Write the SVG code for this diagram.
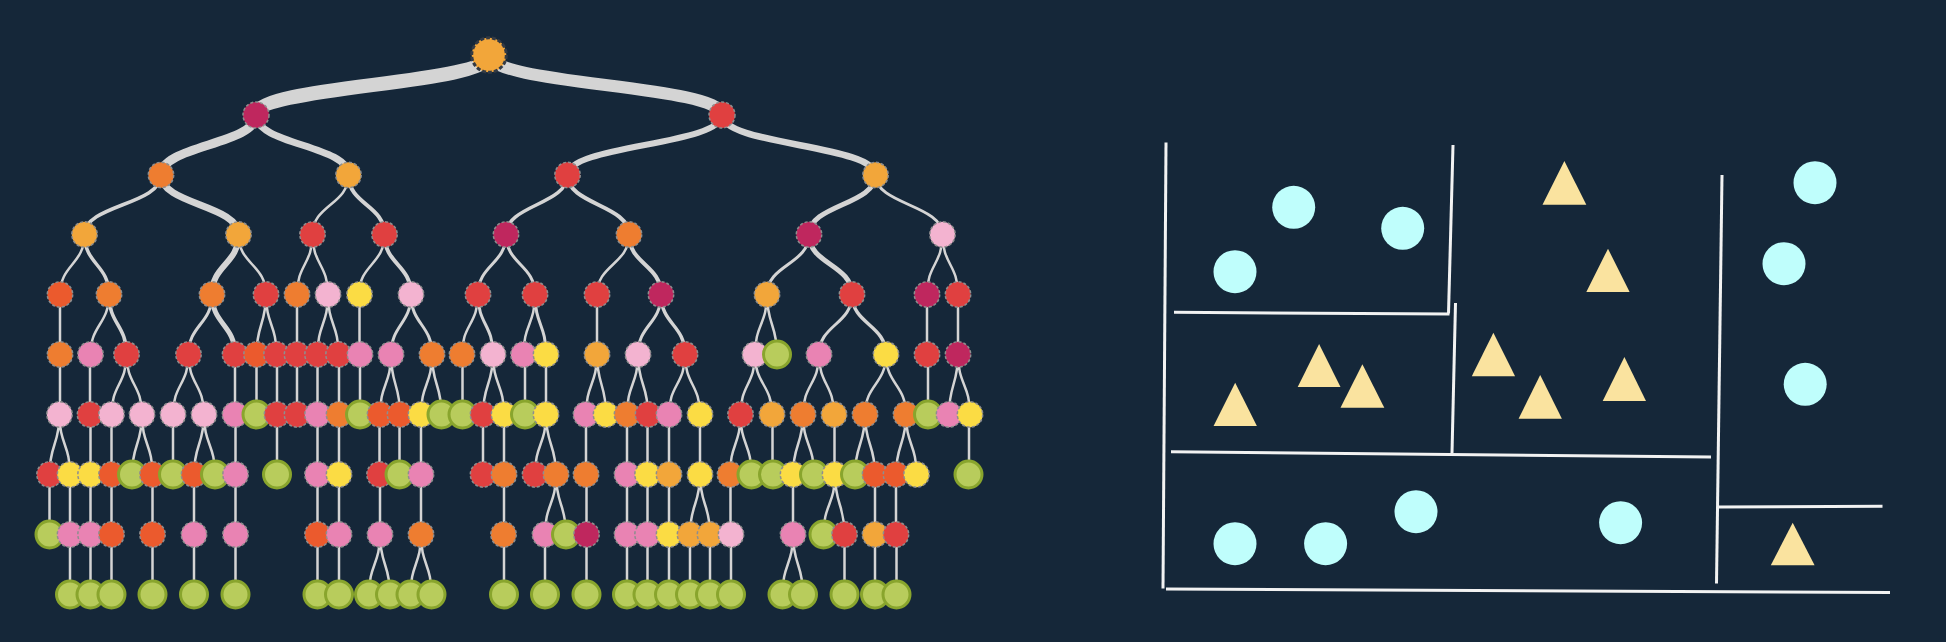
<svg xmlns="http://www.w3.org/2000/svg" width="1946" height="642" viewBox="0 0 1946 642">
<style>
.e{fill:none;stroke:#d4d4d4;stroke-linecap:butt}
.d{stroke:#8e8e8e;stroke-width:1.5;stroke-dasharray:3 2}
.g{fill:#b8cc5c;stroke:#89a52d;stroke-width:3}
.oy{fill:#f2a63a}.mg{fill:#bf275e}.rd{fill:#e04040}.or{fill:#ee7d30}.orr{fill:#eb5a2d}.lp{fill:#f3b3d0}.pk{fill:#e983b3}.yl{fill:#fbdc44}
.w{stroke:#f2f2f2;stroke-width:3;fill:none}
.ci{fill:#bffefc}
.tr{fill:#fae39f}
</style>
<rect width="1946" height="642" fill="#152739"/>
<g id="connectors">
<path class="e" stroke-width="14" d="M489 55C489 85 256 85 256 115"/>
<path class="e" stroke-width="12" d="M489 55C489 85 722 85 722 115"/>
<path class="e" stroke-width="9" d="M256 115C256 145 161 145 161 175"/>
<path class="e" stroke-width="7" d="M256 115C256 145 348.5 145 348.5 175"/>
<path class="e" stroke-width="6" d="M722 115C722 145 567.5 145 567.5 175"/>
<path class="e" stroke-width="6.5" d="M722 115C722 145 875.5 145 875.5 175"/>
<path class="e" stroke-width="3.5" d="M161 175C161 204.75 84.5 204.75 84.5 234.5M567.5 175C567.5 204.75 506 204.75 506 234.5"/>
<path class="e" stroke-width="7" d="M161 175C161 204.75 238.5 204.75 238.5 234.5"/>
<path class="e" stroke-width="2.5" d="M348.5 175C348.5 204.75 312.5 204.75 312.5 234.5"/>
<path class="e" stroke-width="4" d="M348.5 175C348.5 204.75 384.5 204.75 384.5 234.5M567.5 175C567.5 204.75 629 204.75 629 234.5"/>
<path class="e" stroke-width="5" d="M875.5 175C875.5 204.75 809 204.75 809 234.5"/>
<path class="e" stroke-width="3" d="M875.5 175C875.5 204.75 942.5 204.75 942.5 234.5"/>
<path class="e" stroke-width="2.5" d="M84.5 234.5C84.5 264.5 60 264.5 60 294.5M238.5 234.5C238.5 264.5 266 264.5 266 294.5M312.5 234.5C312.5 264.5 297 264.5 297 294.5M312.5 234.5C312.5 264.5 328 264.5 328 294.5M384.5 234.5C384.5 264.5 359 264.5 359 294.5M629 234.5C629 264.5 597 264.5 597 294.5M942.5 234.5C942.5 264.5 927 264.5 927 294.5M942.5 234.5C942.5 264.5 958 264.5 958 294.5"/>
<path class="e" stroke-width="3" d="M506 234.5C506 264.5 478 264.5 478 294.5M506 234.5C506 264.5 535 264.5 535 294.5M809 234.5C809 264.5 767 264.5 767 294.5"/>
<path class="e" stroke-width="3.5" d="M84.5 234.5C84.5 264.5 109 264.5 109 294.5"/>
<path class="e" stroke-width="4" d="M384.5 234.5C384.5 264.5 411 264.5 411 294.5M629 234.5C629 264.5 661 264.5 661 294.5"/>
<path class="e" stroke-width="5" d="M809 234.5C809 264.5 852 264.5 852 294.5"/>
<path class="e" stroke-width="6" d="M238.5 234.5C238.5 264.5 212 264.5 212 294.5"/>
<path class="e" stroke-width="2.5" d="M60 294.5V354.5M109 294.5C109 324.5 90.5 324.5 90.5 354.5M266 294.5C266 324.5 256.5 324.5 256.5 354.5M266 294.5C266 324.5 276.5 324.5 276.5 354.5M297 294.5V354.5M328 294.5C328 324.5 317.5 324.5 317.5 354.5M328 294.5C328 324.5 338.5 324.5 338.5 354.5M359.5 294.5V354.5M478 294.5C478 324.5 462 324.5 462 354.5M535 294.5C535 324.5 523.5 324.5 523.5 354.5M597 294.5V354.5M767 294.5C767 324.5 755 324.5 755 354.5M767 294.5C767 324.5 777 324.5 777 354.5M927 294.5V354.5M958 294.5V354.5"/>
<path class="e" stroke-width="3" d="M212 294.5C212 324.5 188.5 324.5 188.5 354.5M411 294.5C411 324.5 391 324.5 391 354.5M411 294.5C411 324.5 432 324.5 432 354.5M478 294.5C478 324.5 493 324.5 493 354.5M535 294.5C535 324.5 546 324.5 546 354.5M661 294.5C661 324.5 638 324.5 638 354.5M852 294.5C852 324.5 819 324.5 819 354.5"/>
<path class="e" stroke-width="3.5" d="M109 294.5C109 324.5 126.5 324.5 126.5 354.5M661 294.5C661 324.5 685 324.5 685 354.5M852 294.5C852 324.5 886 324.5 886 354.5"/>
<path class="e" stroke-width="5" d="M212 294.5C212 324.5 235 324.5 235 354.5"/>
<path class="e" stroke-width="2.5" d="M60 354.5V414.5M90 354.5V414.5M235 354.5V414.5M256.5 354.5V414.5M277 354.5V414.5M297 354.5V414.5M317.5 354.5V414.5M339 354.5V414.5M360 354.5V414.5M462.5 354.5V414.5M525 354.5V414.5M546 354.5V414.5M928 354.5V414.5M126.5 354.5C126.5 384.5 111.5 384.5 111.5 414.5M126.5 354.5C126.5 384.5 142 384.5 142 414.5M188.5 354.5C188.5 384.5 173 384.5 173 414.5M188.5 354.5C188.5 384.5 204 384.5 204 414.5M391 354.5C391 384.5 380 384.5 380 414.5M391 354.5C391 384.5 400 384.5 400 414.5M432 354.5C432 384.5 421 384.5 421 414.5M432 354.5C432 384.5 441.5 384.5 441.5 414.5M493 354.5C493 384.5 483 384.5 483 414.5M493 354.5C493 384.5 504 384.5 504 414.5M597 354.5C597 384.5 586 384.5 586 414.5M597 354.5C597 384.5 606 384.5 606 414.5M638 354.5C638 384.5 627 384.5 627 414.5M638 354.5C638 384.5 648 384.5 648 414.5M685 354.5C685 384.5 669 384.5 669 414.5M685 354.5C685 384.5 700 384.5 700 414.5M755 354.5C755 384.5 740.5 384.5 740.5 414.5M755 354.5C755 384.5 772 384.5 772 414.5M819 354.5C819 384.5 803 384.5 803 414.5M819 354.5C819 384.5 834 384.5 834 414.5M886 354.5C886 384.5 865 384.5 865 414.5M886 354.5C886 384.5 906 384.5 906 414.5M958 354.5C958 384.5 949 384.5 949 414.5M958 354.5C958 384.5 970 384.5 970 414.5"/>
<path class="e" stroke-width="2.5" d="M90.5 414.5V474.5M111.5 414.5V474.5M173 414.5V474.5M235.5 414.5V474.5M277 414.5V474.5M317.5 414.5V474.5M339 414.5V474.5M379.5 414.5V474.5M399.5 414.5V474.5M421 414.5V474.5M483 414.5V474.5M504 414.5V474.5M586 414.5V474.5M627 414.5V474.5M647.5 414.5V474.5M669 414.5V474.5M700 414.5V474.5M772.5 414.5V474.5M834.5 414.5V474.5M969 414.5V474.5M59.5 414.5C59.5 444.5 49.5 444.5 49.5 474.5M59.5 414.5C59.5 444.5 70 444.5 70 474.5M142 414.5C142 444.5 132 444.5 132 474.5M142 414.5C142 444.5 152.5 444.5 152.5 474.5M204 414.5C204 444.5 194 444.5 194 474.5M204 414.5C204 444.5 215 444.5 215 474.5M546 414.5C546 444.5 535 444.5 535 474.5M546 414.5C546 444.5 556 444.5 556 474.5M740.5 414.5C740.5 444.5 730 444.5 730 474.5M740.5 414.5C740.5 444.5 751.5 444.5 751.5 474.5M803 414.5C803 444.5 793 444.5 793 474.5M803 414.5C803 444.5 814 444.5 814 474.5M865 414.5C865 444.5 855 444.5 855 474.5M865 414.5C865 444.5 875 444.5 875 474.5M906 414.5C906 444.5 896 444.5 896 474.5M906 414.5C906 444.5 916.5 444.5 916.5 474.5"/>
<path class="e" stroke-width="2.5" d="M49.5 474.5V534.5M70 474.5V534.5M90.5 474.5V534.5M111.5 474.5V534.5M152.5 474.5V534.5M194 474.5V534.5M235.5 474.5V534.5M317.5 474.5V534.5M339 474.5V534.5M380 474.5V534.5M421 474.5V534.5M504 474.5V534.5M586.5 474.5V534.5M627 474.5V534.5M647.5 474.5V534.5M669 474.5V534.5M730.5 474.5V534.5M793 474.5V534.5M875 474.5V534.5M896 474.5V534.5M556 474.5C556 504.5 545 504.5 545 534.5M556 474.5C556 504.5 566 504.5 566 534.5M700 474.5C700 504.5 690 504.5 690 534.5M700 474.5C700 504.5 710 504.5 710 534.5M835 474.5C835 504.5 823.5 504.5 823.5 534.5M835 474.5C835 504.5 844.5 504.5 844.5 534.5"/>
<path class="e" stroke-width="2.5" d="M70 534.5V594.5M90.5 534.5V594.5M111.5 534.5V594.5M152.5 534.5V594.5M194 534.5V594.5M235.5 534.5V594.5M317.5 534.5V594.5M339 534.5V594.5M504 534.5V594.5M545 534.5V594.5M586.5 534.5V594.5M627 534.5V594.5M647.5 534.5V594.5M669 534.5V594.5M690 534.5V594.5M710 534.5V594.5M731 534.5V594.5M844.5 534.5V594.5M875 534.5V594.5M896.5 534.5V594.5M380 534.5C380 564.5 369 564.5 369 594.5M380 534.5C380 564.5 390 564.5 390 594.5M421 534.5C421 564.5 410.5 564.5 410.5 594.5M421 534.5C421 564.5 431.5 564.5 431.5 594.5M793 534.5C793 564.5 782.5 564.5 782.5 594.5M793 534.5C793 564.5 803 564.5 803 594.5"/>
</g>
<g id="root"><circle class="oy" cx="489" cy="55" r="17.3" stroke="#333a44" stroke-width="3" stroke-dasharray="4 2"/></g>
<g id="n1a"><circle class="d mg" cx="256" cy="115" r="13"/></g>
<g id="n1b"><circle class="d rd" cx="722" cy="115" r="13"/></g>
<g id="n2a"><circle class="d or" cx="161" cy="175" r="12.7"/></g>
<g id="n2b"><circle class="d oy" cx="348.5" cy="175" r="12.7"/></g>
<g id="n2c"><circle class="d rd" cx="567.5" cy="175" r="12.7"/></g>
<g id="n2d"><circle class="d oy" cx="875.5" cy="175" r="12.7"/></g>
<g id="n3a"><circle class="d oy" cx="84.5" cy="234.5" r="12.7"/></g>
<g id="n3b"><circle class="d oy" cx="238.5" cy="234.5" r="12.7"/></g>
<g id="n3c"><circle class="d rd" cx="312.5" cy="234.5" r="12.7"/></g>
<g id="n3d"><circle class="d rd" cx="384.5" cy="234.5" r="12.7"/></g>
<g id="n3e"><circle class="d mg" cx="506" cy="234.5" r="12.7"/></g>
<g id="n3f"><circle class="d or" cx="629" cy="234.5" r="12.7"/></g>
<g id="n3g"><circle class="d mg" cx="809" cy="234.5" r="12.7"/></g>
<g id="n3h"><circle class="d lp" cx="942.5" cy="234.5" r="12.7"/></g>
<g id="n4-1"><circle class="d orr" cx="60" cy="294.5" r="12.7"/></g>
<g id="n4-2"><circle class="d or" cx="109" cy="294.5" r="12.7"/></g>
<g id="n4-3"><circle class="d or" cx="212" cy="294.5" r="12.7"/></g>
<g id="n4-4"><circle class="d rd" cx="266" cy="294.5" r="12.7"/></g>
<g id="n4-5"><circle class="d or" cx="297" cy="294.5" r="12.7"/></g>
<g id="n4-6"><circle class="d lp" cx="328" cy="294.5" r="12.7"/></g>
<g id="n4-7"><circle class="d yl" cx="359.5" cy="294.5" r="12.7"/></g>
<g id="n4-8"><circle class="d lp" cx="411" cy="294.5" r="12.7"/></g>
<g id="n4-9"><circle class="d rd" cx="478" cy="294.5" r="12.7"/></g>
<g id="n4-10"><circle class="d rd" cx="535" cy="294.5" r="12.7"/></g>
<g id="n4-11"><circle class="d rd" cx="597" cy="294.5" r="12.7"/></g>
<g id="n4-12"><circle class="d mg" cx="661" cy="294.5" r="12.7"/></g>
<g id="n4-13"><circle class="d oy" cx="767" cy="294.5" r="12.7"/></g>
<g id="n4-14"><circle class="d rd" cx="852" cy="294.5" r="12.7"/></g>
<g id="n4-15"><circle class="d mg" cx="927" cy="294.5" r="12.7"/></g>
<g id="n4-16"><circle class="d rd" cx="958" cy="294.5" r="12.7"/></g>
<g id="n5-1"><circle class="d or" cx="60" cy="354.5" r="12.7"/></g>
<g id="n5-2"><circle class="d pk" cx="90.5" cy="354.5" r="12.7"/></g>
<g id="n5-3"><circle class="d rd" cx="126.5" cy="354.5" r="12.7"/></g>
<g id="n5-4"><circle class="d rd" cx="188.5" cy="354.5" r="12.7"/></g>
<g id="n5-5"><circle class="d rd" cx="235" cy="354.5" r="12.7"/></g>
<g id="n5-6"><circle class="d orr" cx="256.5" cy="354.5" r="12.7"/></g>
<g id="n5-7"><circle class="d rd" cx="276.5" cy="354.5" r="12.7"/></g>
<g id="n5-8"><circle class="d rd" cx="297" cy="354.5" r="12.7"/></g>
<g id="n5-9"><circle class="d rd" cx="317.5" cy="354.5" r="12.7"/></g>
<g id="n5-10"><circle class="d rd" cx="338.5" cy="354.5" r="12.7"/></g>
<g id="n5-11"><circle class="d pk" cx="360" cy="354.5" r="12.7"/></g>
<g id="n5-12"><circle class="d pk" cx="391" cy="354.5" r="12.7"/></g>
<g id="n5-13"><circle class="d or" cx="432" cy="354.5" r="12.7"/></g>
<g id="n5-14"><circle class="d or" cx="462" cy="354.5" r="12.7"/></g>
<g id="n5-15"><circle class="d lp" cx="493" cy="354.5" r="12.7"/></g>
<g id="n5-16"><circle class="d pk" cx="523.5" cy="354.5" r="12.7"/></g>
<g id="n5-17"><circle class="d yl" cx="546" cy="354.5" r="12.7"/></g>
<g id="n5-18"><circle class="d oy" cx="597" cy="354.5" r="12.7"/></g>
<g id="n5-19"><circle class="d lp" cx="638" cy="354.5" r="12.7"/></g>
<g id="n5-20"><circle class="d rd" cx="685" cy="354.5" r="12.7"/></g>
<g id="n5-21"><circle class="d lp" cx="755" cy="354.5" r="12.7"/></g>
<g id="n5-22"><circle class="g" cx="777" cy="354.5" r="13.5"/></g>
<g id="n5-23"><circle class="d pk" cx="819" cy="354.5" r="12.7"/></g>
<g id="n5-24"><circle class="d yl" cx="886" cy="354.5" r="12.7"/></g>
<g id="n5-25"><circle class="d rd" cx="927" cy="354.5" r="12.7"/></g>
<g id="n5-26"><circle class="d mg" cx="958" cy="354.5" r="12.7"/></g>
<g id="n6-1"><circle class="d lp" cx="59.5" cy="414.5" r="12.7"/></g>
<g id="n6-2"><circle class="d rd" cx="90" cy="414.5" r="12.7"/></g>
<g id="n6-3"><circle class="d lp" cx="111.5" cy="414.5" r="12.7"/></g>
<g id="n6-4"><circle class="d lp" cx="142" cy="414.5" r="12.7"/></g>
<g id="n6-5"><circle class="d lp" cx="173" cy="414.5" r="12.7"/></g>
<g id="n6-6"><circle class="d lp" cx="204" cy="414.5" r="12.7"/></g>
<g id="n6-7"><circle class="d pk" cx="235" cy="414.5" r="12.7"/></g>
<g id="n6-8"><circle class="g" cx="256.5" cy="414.5" r="13.5"/></g>
<g id="n6-9"><circle class="d rd" cx="277" cy="414.5" r="12.7"/></g>
<g id="n6-10"><circle class="d rd" cx="297" cy="414.5" r="12.7"/></g>
<g id="n6-11"><circle class="d pk" cx="317.5" cy="414.5" r="12.7"/></g>
<g id="n6-12"><circle class="d or" cx="339" cy="414.5" r="12.7"/></g>
<g id="n6-13"><circle class="g" cx="360" cy="414.5" r="13.5"/></g>
<g id="n6-14"><circle class="d orr" cx="380" cy="414.5" r="12.7"/></g>
<g id="n6-15"><circle class="d orr" cx="400" cy="414.5" r="12.7"/></g>
<g id="n6-16"><circle class="d yl" cx="421" cy="414.5" r="12.7"/></g>
<g id="n6-17"><circle class="g" cx="441.5" cy="414.5" r="13.5"/></g>
<g id="n6-18"><circle class="g" cx="462.5" cy="414.5" r="13.5"/></g>
<g id="n6-19"><circle class="d rd" cx="483" cy="414.5" r="12.7"/></g>
<g id="n6-20"><circle class="d yl" cx="504" cy="414.5" r="12.7"/></g>
<g id="n6-21"><circle class="g" cx="525" cy="414.5" r="13.5"/></g>
<g id="n6-22"><circle class="d yl" cx="546" cy="414.5" r="12.7"/></g>
<g id="n6-23"><circle class="d pk" cx="586" cy="414.5" r="12.7"/></g>
<g id="n6-24"><circle class="d yl" cx="606" cy="414.5" r="12.7"/></g>
<g id="n6-25"><circle class="d or" cx="627" cy="414.5" r="12.7"/></g>
<g id="n6-26"><circle class="d rd" cx="648" cy="414.5" r="12.7"/></g>
<g id="n6-27"><circle class="d pk" cx="669" cy="414.5" r="12.7"/></g>
<g id="n6-28"><circle class="d yl" cx="700" cy="414.5" r="12.7"/></g>
<g id="n6-29"><circle class="d rd" cx="740.5" cy="414.5" r="12.7"/></g>
<g id="n6-30"><circle class="d oy" cx="772" cy="414.5" r="12.7"/></g>
<g id="n6-31"><circle class="d or" cx="803" cy="414.5" r="12.7"/></g>
<g id="n6-32"><circle class="d oy" cx="834" cy="414.5" r="12.7"/></g>
<g id="n6-33"><circle class="d or" cx="865" cy="414.5" r="12.7"/></g>
<g id="n6-34"><circle class="d or" cx="906" cy="414.5" r="12.7"/></g>
<g id="n6-35"><circle class="g" cx="928" cy="414.5" r="13.5"/></g>
<g id="n6-36"><circle class="d pk" cx="949" cy="414.5" r="12.7"/></g>
<g id="n6-37"><circle class="d yl" cx="970" cy="414.5" r="12.7"/></g>
<g id="n7-1"><circle class="d rd" cx="49.5" cy="474.5" r="12.7"/></g>
<g id="n7-2"><circle class="d yl" cx="70" cy="474.5" r="12.7"/></g>
<g id="n7-3"><circle class="d yl" cx="90.5" cy="474.5" r="12.7"/></g>
<g id="n7-4"><circle class="d orr" cx="111.5" cy="474.5" r="12.7"/></g>
<g id="n7-5"><circle class="g" cx="132" cy="474.5" r="13.5"/></g>
<g id="n7-6"><circle class="d orr" cx="152.5" cy="474.5" r="12.7"/></g>
<g id="n7-7"><circle class="g" cx="173" cy="474.5" r="13.5"/></g>
<g id="n7-8"><circle class="d orr" cx="194" cy="474.5" r="12.7"/></g>
<g id="n7-9"><circle class="g" cx="215" cy="474.5" r="13.5"/></g>
<g id="n7-10"><circle class="d pk" cx="235.5" cy="474.5" r="12.7"/></g>
<g id="n7-11"><circle class="g" cx="277" cy="474.5" r="13.5"/></g>
<g id="n7-12"><circle class="d pk" cx="317.5" cy="474.5" r="12.7"/></g>
<g id="n7-13"><circle class="d yl" cx="339" cy="474.5" r="12.7"/></g>
<g id="n7-14"><circle class="d rd" cx="379.5" cy="474.5" r="12.7"/></g>
<g id="n7-15"><circle class="g" cx="399.5" cy="474.5" r="13.5"/></g>
<g id="n7-16"><circle class="d pk" cx="421" cy="474.5" r="12.7"/></g>
<g id="n7-17"><circle class="d rd" cx="483" cy="474.5" r="12.7"/></g>
<g id="n7-18"><circle class="d or" cx="504" cy="474.5" r="12.7"/></g>
<g id="n7-19"><circle class="d rd" cx="535" cy="474.5" r="12.7"/></g>
<g id="n7-20"><circle class="d or" cx="556" cy="474.5" r="12.7"/></g>
<g id="n7-21"><circle class="d or" cx="586" cy="474.5" r="12.7"/></g>
<g id="n7-22"><circle class="d pk" cx="627" cy="474.5" r="12.7"/></g>
<g id="n7-23"><circle class="d yl" cx="647.5" cy="474.5" r="12.7"/></g>
<g id="n7-24"><circle class="d oy" cx="669" cy="474.5" r="12.7"/></g>
<g id="n7-25"><circle class="d yl" cx="700" cy="474.5" r="12.7"/></g>
<g id="n7-26"><circle class="d or" cx="730" cy="474.5" r="12.7"/></g>
<g id="n7-27"><circle class="g" cx="751.5" cy="474.5" r="13.5"/></g>
<g id="n7-28"><circle class="g" cx="773" cy="474.5" r="13.5"/></g>
<g id="n7-29"><circle class="d yl" cx="793" cy="474.5" r="12.7"/></g>
<g id="n7-30"><circle class="g" cx="814" cy="474.5" r="13.5"/></g>
<g id="n7-31"><circle class="d yl" cx="835" cy="474.5" r="12.7"/></g>
<g id="n7-32"><circle class="g" cx="855" cy="474.5" r="13.5"/></g>
<g id="n7-33"><circle class="d orr" cx="875" cy="474.5" r="12.7"/></g>
<g id="n7-34"><circle class="d orr" cx="896" cy="474.5" r="12.7"/></g>
<g id="n7-35"><circle class="d yl" cx="916.5" cy="474.5" r="12.7"/></g>
<g id="n7-36"><circle class="g" cx="968.5" cy="474.5" r="13.5"/></g>
<g id="n8-1"><circle class="g" cx="49.5" cy="534.5" r="13.5"/></g>
<g id="n8-2"><circle class="d pk" cx="70" cy="534.5" r="12.7"/></g>
<g id="n8-3"><circle class="d pk" cx="90.5" cy="534.5" r="12.7"/></g>
<g id="n8-4"><circle class="d orr" cx="111.5" cy="534.5" r="12.7"/></g>
<g id="n8-5"><circle class="d orr" cx="152.5" cy="534.5" r="12.7"/></g>
<g id="n8-6"><circle class="d pk" cx="194" cy="534.5" r="12.7"/></g>
<g id="n8-7"><circle class="d pk" cx="235.5" cy="534.5" r="12.7"/></g>
<g id="n8-8"><circle class="d orr" cx="317.5" cy="534.5" r="12.7"/></g>
<g id="n8-9"><circle class="d pk" cx="339" cy="534.5" r="12.7"/></g>
<g id="n8-10"><circle class="d pk" cx="380" cy="534.5" r="12.7"/></g>
<g id="n8-11"><circle class="d or" cx="421" cy="534.5" r="12.7"/></g>
<g id="n8-12"><circle class="d or" cx="503.5" cy="534.5" r="12.7"/></g>
<g id="n8-13"><circle class="d pk" cx="545" cy="534.5" r="12.7"/></g>
<g id="n8-14"><circle class="g" cx="566" cy="534.5" r="13.5"/></g>
<g id="n8-15"><circle class="d mg" cx="586.5" cy="534.5" r="12.7"/></g>
<g id="n8-16"><circle class="d pk" cx="627" cy="534.5" r="12.7"/></g>
<g id="n8-17"><circle class="d pk" cx="647.5" cy="534.5" r="12.7"/></g>
<g id="n8-18"><circle class="d yl" cx="669" cy="534.5" r="12.7"/></g>
<g id="n8-19"><circle class="d oy" cx="690" cy="534.5" r="12.7"/></g>
<g id="n8-20"><circle class="d oy" cx="710" cy="534.5" r="12.7"/></g>
<g id="n8-21"><circle class="d lp" cx="731" cy="534.5" r="12.7"/></g>
<g id="n8-22"><circle class="d pk" cx="793" cy="534.5" r="12.7"/></g>
<g id="n8-23"><circle class="g" cx="823.5" cy="534.5" r="13.5"/></g>
<g id="n8-24"><circle class="d rd" cx="844.5" cy="534.5" r="12.7"/></g>
<g id="n8-25"><circle class="d oy" cx="875" cy="534.5" r="12.7"/></g>
<g id="n8-26"><circle class="d rd" cx="896" cy="534.5" r="12.7"/></g>
<g id="n9-1"><circle class="g" cx="70" cy="594.5" r="13.5"/></g>
<g id="n9-2"><circle class="g" cx="90.5" cy="594.5" r="13.5"/></g>
<g id="n9-3"><circle class="g" cx="111.5" cy="594.5" r="13.5"/></g>
<g id="n9-4"><circle class="g" cx="152.5" cy="594.5" r="13.5"/></g>
<g id="n9-5"><circle class="g" cx="194" cy="594.5" r="13.5"/></g>
<g id="n9-6"><circle class="g" cx="235.5" cy="594.5" r="13.5"/></g>
<g id="n9-7"><circle class="g" cx="317.5" cy="594.5" r="13.5"/></g>
<g id="n9-8"><circle class="g" cx="339" cy="594.5" r="13.5"/></g>
<g id="n9-9"><circle class="g" cx="369" cy="594.5" r="13.5"/></g>
<g id="n9-10"><circle class="g" cx="390" cy="594.5" r="13.5"/></g>
<g id="n9-11"><circle class="g" cx="410.5" cy="594.5" r="13.5"/></g>
<g id="n9-12"><circle class="g" cx="431.5" cy="594.5" r="13.5"/></g>
<g id="n9-13"><circle class="g" cx="504" cy="594.5" r="13.5"/></g>
<g id="n9-14"><circle class="g" cx="545" cy="594.5" r="13.5"/></g>
<g id="n9-15"><circle class="g" cx="586.5" cy="594.5" r="13.5"/></g>
<g id="n9-16"><circle class="g" cx="627" cy="594.5" r="13.5"/></g>
<g id="n9-17"><circle class="g" cx="647.5" cy="594.5" r="13.5"/></g>
<g id="n9-18"><circle class="g" cx="669" cy="594.5" r="13.5"/></g>
<g id="n9-19"><circle class="g" cx="690" cy="594.5" r="13.5"/></g>
<g id="n9-20"><circle class="g" cx="710" cy="594.5" r="13.5"/></g>
<g id="n9-21"><circle class="g" cx="731" cy="594.5" r="13.5"/></g>
<g id="n9-22"><circle class="g" cx="782.5" cy="594.5" r="13.5"/></g>
<g id="n9-23"><circle class="g" cx="803" cy="594.5" r="13.5"/></g>
<g id="n9-24"><circle class="g" cx="844.5" cy="594.5" r="13.5"/></g>
<g id="n9-25"><circle class="g" cx="875" cy="594.5" r="13.5"/></g>
<g id="n9-26"><circle class="g" cx="896.5" cy="594.5" r="13.5"/></g>
<g id="partition">
<path class="w" d="M1166 142.5L1163 588.5"/>
<path class="w" d="M1166 589L1890 592.5"/>
<path class="w" d="M1453 145L1448.5 313.5"/>
<path class="w" d="M1174 312.3L1449.5 314"/>
<path class="w" d="M1455.5 303L1452 453"/>
<path class="w" d="M1171 451.7L1711 457"/>
<path class="w" d="M1722 175L1716.5 583.5"/>
<path class="w" d="M1718 507L1882.5 506.3"/>
</g>
<g id="points">
<circle class="ci" cx="1293.7" cy="207.3" r="21.5"/>
<circle class="ci" cx="1402.7" cy="228.3" r="21.5"/>
<circle class="ci" cx="1235" cy="271.7" r="21.5"/>
<circle class="ci" cx="1815" cy="182.7" r="21.5"/>
<circle class="ci" cx="1784" cy="263.7" r="21.5"/>
<circle class="ci" cx="1805.2" cy="384.3" r="21.5"/>
<circle class="ci" cx="1235" cy="543.7" r="21.5"/>
<circle class="ci" cx="1325.6" cy="543.7" r="21.5"/>
<circle class="ci" cx="1416" cy="511.7" r="21.5"/>
<circle class="ci" cx="1620.6" cy="522.7" r="21.5"/>
<polygon class="tr" points="1564.4,161 1586.3,204.7 1542.5,204.7"/>
<polygon class="tr" points="1608,248.7 1629.6,292 1586.3,292"/>
<polygon class="tr" points="1493.4,332.7 1515.1,376.3 1471.8,376.3"/>
<polygon class="tr" points="1540.2,375 1561.9,418.7 1518.6,418.7"/>
<polygon class="tr" points="1624.4,357 1646,401 1602.7,401"/>
<polygon class="tr" points="1319.1,344 1340.5,387 1297.7,387"/>
<polygon class="tr" points="1362.4,364.3 1384.3,407.7 1340.5,407.7"/>
<polygon class="tr" points="1235.2,382.7 1256.9,426 1213.6,426"/>
<polygon class="tr" points="1792.7,522.7 1814.6,565.3 1770.8,565.3"/>
</g>
</svg>
